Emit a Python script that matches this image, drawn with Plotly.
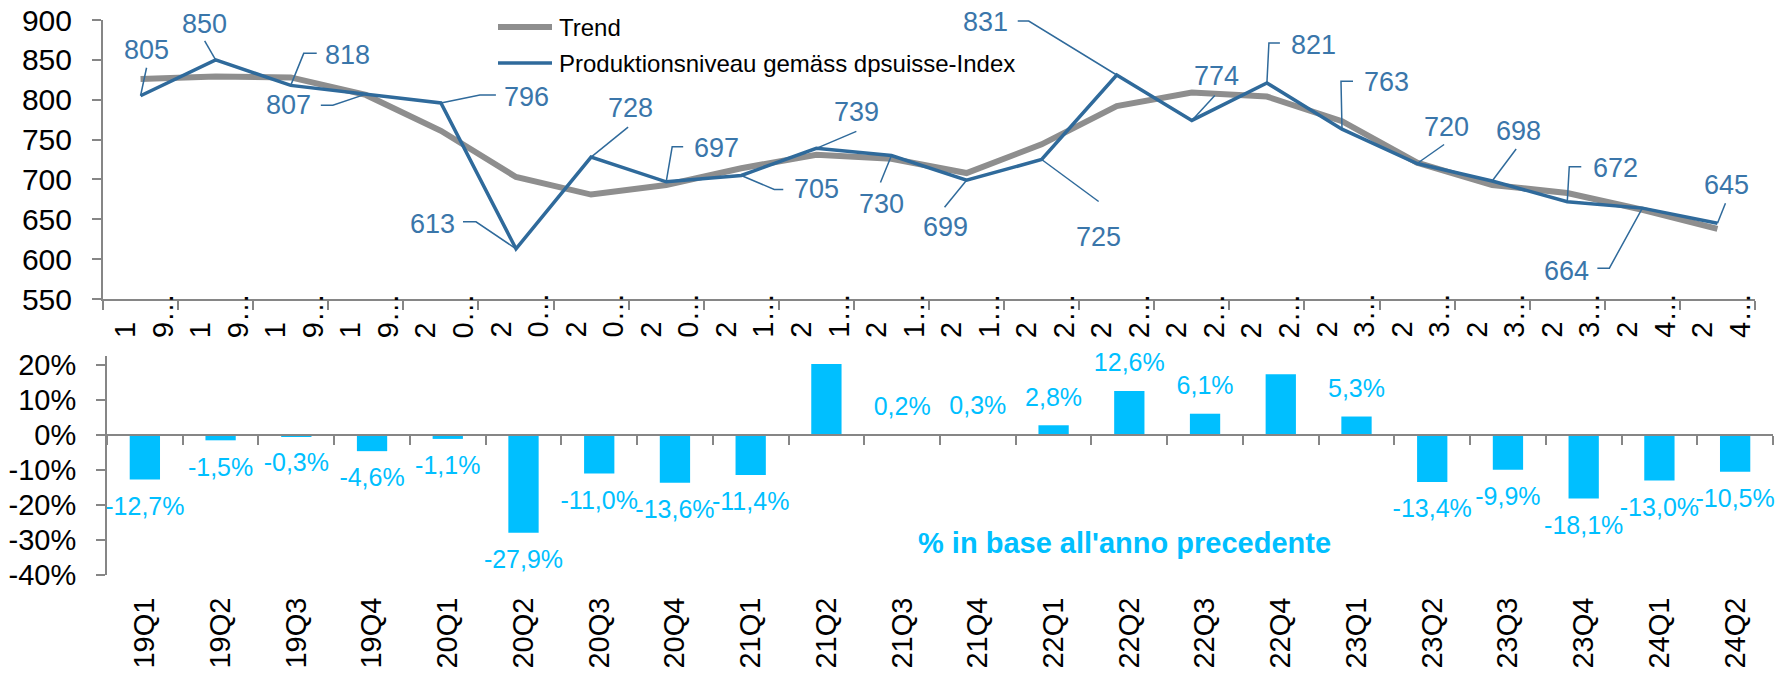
import plotly.graph_objects as go

# ---------------- data ----------------
categories = ["19Q1", "19Q2", "19Q3", "19Q4", "20Q1", "20Q2", "20Q3", "20Q4",
              "21Q1", "21Q2", "21Q3", "21Q4", "22Q1", "22Q2", "22Q3", "22Q4",
              "23Q1", "23Q2", "23Q3", "23Q4", "24Q1", "24Q2"]
production = [805, 850, 818, 807, 796, 613, 728, 697, 705, 739, 730, 699,
              725, 831, 774, 821, 763, 720, 698, 672, 664, 645]
trend = [826, 829, 828, 806, 761, 703, 681, 693, 714, 731, 726, 708,
         744, 792, 809, 804, 773, 721, 693, 683, 662, 638]
yoy_change = [-12.7, -1.5, -0.3, -4.6, -1.1, -27.9, -11.0, -13.6, -11.4, 20.3, 0.2, 0.3,
              2.8, 12.6, 6.1, 17.4, 5.3, -13.4, -9.9, -18.1, -13.0, -10.5]
top_y_ticks = [550, 600, 650, 700, 750, 800, 850, 900]
bottom_y_ticks = [-40, -30, -20, -10, 0, 10, 20]

# ---------------- layout constants (pixels) ----------------
W, H = 1777, 675
def px(x):
    return x / W
def py(y):
    return 1 - y / H

GRAY_TREND = "#8E8E8E"
BLUE = "#2F6A9B"
BLUE_LABEL = "#3A76AA"
CYAN = "#00BFFF"
AXIS = "#868686"
FONT = "Liberation Sans, Arial, sans-serif"

# label offsets (screen px, relative to data point) and leader-line paths
label_offsets = [(6, -46), (-11, -36), (57, -30), (-77, 11), (86, -6), (-84, -25),
                 (39, -49), (50, -34), (75, 14), (40, -36), (-10, 48), (-21, 47),
                 (57, 77), (-131, -53), (25, -44), (47, -38), (44, -47), (29, -36),
                 (26, -50), (48, -34), (-76, 63), (9, -38)]
leader_paths = [
    [(6, -28)], [(-11, -19)], [(13, -32), (26, -32)], [(-33, 11), (-45, 11)],
    [(39, -8), (55, -8)], [(-40, -27), (-53, -27)], [(37, -30)], [(6, -35), (17, -35)],
    [(33, 14), (42, 14)], [(40, -17)], [(-11, 27)], [(-22, 27)], [(57, 42)],
    [(-88, -54), (-99, -54)], [(23, -25)], [(2, -40), (13, -40)], [(-1, -48), (11, -48)],
    [(27, -19)], [(24, -32)], [(2, -35), (14, -35)], [(-33, 60), (-45, 60)], [(8, -20)],
]

# domains
top_x = [px(103), px(1755)]
top_y = [py(299), py(20)]
bot_x = [px(107), px(1773)]
bot_y = [py(575), py(356)]
bot_range = [-40, 22.6]
zero_pos = bot_y[0] + (0 - bot_range[0]) / (bot_range[1] - bot_range[0]) * (bot_y[1] - bot_y[0])

fig = go.Figure()

# top chart lines
fig.add_trace(go.Scatter(x=categories, y=trend, mode="lines", name="Trend",
                         line=dict(color=GRAY_TREND, width=6), xaxis="x", yaxis="y",
                         showlegend=False, hoverinfo="skip"))
fig.add_trace(go.Scatter(x=categories, y=production, mode="lines",
                         name="Produktionsniveau gemäss dpsuisse-Index",
                         line=dict(color=BLUE, width=3.5), xaxis="x", yaxis="y",
                         showlegend=False))

# bottom chart bars
fig.add_trace(go.Bar(x=categories, y=yoy_change, marker=dict(color=CYAN, line=dict(width=0)),
                     width=0.4, xaxis="x2", yaxis="y2", showlegend=False))

# bottom bar labels: those reaching past the top of the plot are clipped
label_y = [v + 7.4 if v >= 0 else v - 8.3 for v in yoy_change]
label_txt = [f"{v:.1f}".replace(".", ",") + "%" for v in yoy_change]
for clip in (False, True):
    sel = [i for i, ly in enumerate(label_y) if (ly > 21) == clip]
    fig.add_trace(go.Scatter(x=[categories[i] for i in sel],
                             y=[label_y[i] - (0.8 if clip else 0) for i in sel],
                             mode="text", text=[label_txt[i] for i in sel],
                             textposition="middle center",
                             textfont=dict(family=FONT, size=25, color=CYAN),
                             cliponaxis=clip, xaxis="x2", yaxis="y2", showlegend=False,
                             hoverinfo="skip"))

annotations = []
shapes = []

# top data labels + leader lines
for cat, val, (dx, dy), path in zip(categories, production, label_offsets, leader_paths):
    annotations.append(dict(x=cat, y=val, xref="x", yref="y", text=str(val), showarrow=False,
                            xshift=dx, yshift=-dy, xanchor="center", yanchor="middle",
                            font=dict(family=FONT, size=27, color=BLUE_LABEL)))
    d = "M0,0" + "".join(f" L{x},{-y}" for x, y in path)
    shapes.append(dict(type="path", xref="x", yref="y", xsizemode="pixel", ysizemode="pixel",
                       xanchor=cat, yanchor=val, path=d,
                       line=dict(color=BLUE, width=1.5)))

# top axis category labels (wrapped + truncated, rotated)
for cat in categories:
    annotations.append(dict(x=cat, y=py(291), xref="x", yref="paper",
                            text=f"{cat[0]}<br>{cat[1]}…", textangle=-90, align="left",
                            showarrow=False, xanchor="center", yanchor="top",
                            xshift=3,
                            font=dict(family=FONT, size=29, color="#000000")))

# manual legend
legend_items = [("Trend", GRAY_TREND, 6, 27), ("Produktionsniveau gemäss dpsuisse-Index", BLUE, 3.5, 63)]
for name, color, width, yy in legend_items:
    shapes.append(dict(type="line", xref="paper", yref="paper", x0=px(498), x1=px(552),
                       y0=py(yy), y1=py(yy), line=dict(color=color, width=width)))
    annotations.append(dict(x=px(557), y=py(yy), xref="paper", yref="paper", text=name,
                            showarrow=False, xanchor="left", yanchor="middle",
                            font=dict(family=FONT, size=24, color="#000000")))

# bottom title
annotations.append(dict(x=px(1124), y=py(543), xref="paper", yref="paper",
                        text="<b>% in base all'anno precedente</b>", showarrow=False,
                        xanchor="center", yanchor="middle",
                        font=dict(family=FONT, size=29, color=CYAN)))

axis_common = dict(showline=True, linecolor=AXIS, linewidth=2, ticks="outside", ticklen=9,
                   tickwidth=2, tickcolor=AXIS, showgrid=False, zeroline=False,
                   automargin=False)

fig.update_layout(
    width=W, height=H, autosize=False,
    margin=dict(l=0, r=0, t=0, b=0, pad=0),
    paper_bgcolor="white", plot_bgcolor="white",
    font=dict(family=FONT, color="#000000"),
    showlegend=False,
    xaxis=dict(domain=top_x, anchor="y", type="category", tickson="boundaries",
               showticklabels=False, range=[-0.5, len(categories) - 0.5], **axis_common),
    yaxis=dict(domain=top_y, anchor="x", range=[550, 900], tickvals=top_y_ticks,
               tickfont=dict(family=FONT, size=30, color="#000000"), ticklabelstandoff=14,
               **axis_common),
    xaxis2=dict(domain=bot_x, anchor="free", position=zero_pos, type="category",
                tickson="boundaries", tickangle=-90, ticklabelstandoff=150,
                tickfont=dict(family=FONT, size=29, color="#000000"),
                range=[-0.5, len(categories) - 0.5], **axis_common),
    yaxis2=dict(domain=bot_y, anchor="x2", range=bot_range, tickvals=bottom_y_ticks,
                ticktext=[f"{t}%" for t in bottom_y_ticks],
                tickfont=dict(family=FONT, size=29, color="#000000"), ticklabelstandoff=14,
                **axis_common),
    annotations=annotations,
    shapes=shapes,
    bargap=0.6,
)

fig.write_html("out.html", config={"displayModeBar": False},
               post_script="document.body.style.margin='0px';")
